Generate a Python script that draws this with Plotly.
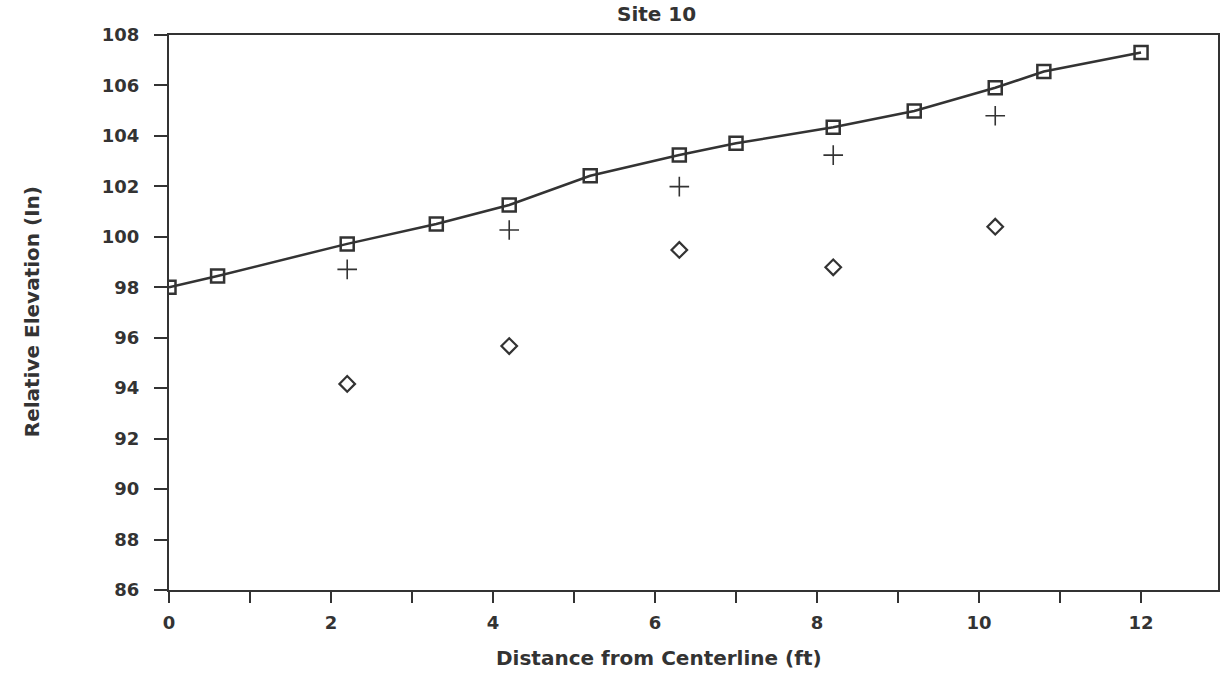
import plotly.graph_objects as go

# Ground surface profile (connected squares)
surface_x = [0, 0.6, 2.2, 3.3, 4.2, 5.2, 6.3, 7.0, 8.2, 9.2, 10.2, 10.8, 12.0]
surface_y = [98.0, 98.45, 99.72, 100.51, 101.26, 102.42, 103.24, 103.71, 104.34, 104.99, 105.91, 106.55, 107.31]

# Secondary readings (plus markers)
plus_x = [2.2, 4.2, 6.3, 8.2, 10.2]
plus_y = [98.71, 100.27, 101.99, 103.24, 104.80]

# Lower readings (diamond markers)
diamond_x = [2.2, 4.2, 6.3, 8.2, 10.2]
diamond_y = [94.17, 95.67, 99.48, 98.79, 100.40]

x_ticks = list(range(0, 13))
x_tick_text = [str(v) if v % 2 == 0 else "" for v in x_ticks]
y_ticks = list(range(86, 109, 2))

ink = "#333333"
font_family = "DejaVu Sans"

fig = go.Figure()
fig.add_trace(go.Scatter(
    x=surface_x, y=surface_y, mode="lines+markers",
    line=dict(color=ink, width=2.5),
    marker=dict(symbol="square-open", size=13, color=ink, line=dict(width=2.5, color=ink)),
    showlegend=False,
))
fig.add_trace(go.Scatter(
    x=plus_x, y=plus_y, mode="markers",
    marker=dict(symbol="cross-thin-open", size=14, color=ink, line=dict(width=1.6, color=ink)),
    showlegend=False,
))
fig.add_trace(go.Scatter(
    x=diamond_x, y=diamond_y, mode="markers",
    marker=dict(symbol="diamond-open", size=12, color=ink, line=dict(width=2.2, color=ink)),
    showlegend=False,
))

fig.update_xaxes(
    range=[0, 12.95], tickvals=x_ticks, ticktext=x_tick_text,
    ticks="outside", ticklen=11, tickwidth=2, tickcolor=ink,
    showline=True, linecolor=ink, linewidth=2, mirror=True,
    showgrid=False, zeroline=False,
    ticklabelstandoff=4,
    tickfont=dict(family=font_family, size=18, color=ink, weight="bold"),
)
fig.update_yaxes(
    range=[86, 108], tickvals=y_ticks,
    ticks="outside", ticklen=13, tickwidth=2, tickcolor=ink,
    showline=True, linecolor=ink, linewidth=2, mirror=True,
    showgrid=False, zeroline=False,
    ticklabelstandoff=11,
    tickfont=dict(family=font_family, size=18, color=ink, weight="bold"),
)

fig.update_layout(
    width=1221, height=673,
    margin=dict(l=169, r=1, t=35, b=83),
    paper_bgcolor="white", plot_bgcolor="white",
    font=dict(family=font_family, color=ink),
    annotations=[
        dict(text="Site 10", xref="paper", yref="paper",
             x=(657 - 169) / 1051, y=(590 - 14) / 555,
             xanchor="center", yanchor="middle", showarrow=False,
             font=dict(family=font_family, size=20, color=ink, weight="bold")),
        dict(text="Distance from Centerline (ft)", xref="paper", yref="paper",
             x=(660 - 169) / 1051, y=(590 - 658) / 555,
             xanchor="center", yanchor="middle", showarrow=False,
             font=dict(family=font_family, size=20, color=ink, weight="bold")),
        dict(text="Relative Elevation (In)", xref="paper", yref="paper",
             x=(32 - 169) / 1051, y=(590 - 312) / 555, textangle=-90,
             xanchor="center", yanchor="middle", showarrow=False,
             font=dict(family=font_family, size=20, color=ink, weight="bold")),
    ],
)

fig.write_html("out.html")
